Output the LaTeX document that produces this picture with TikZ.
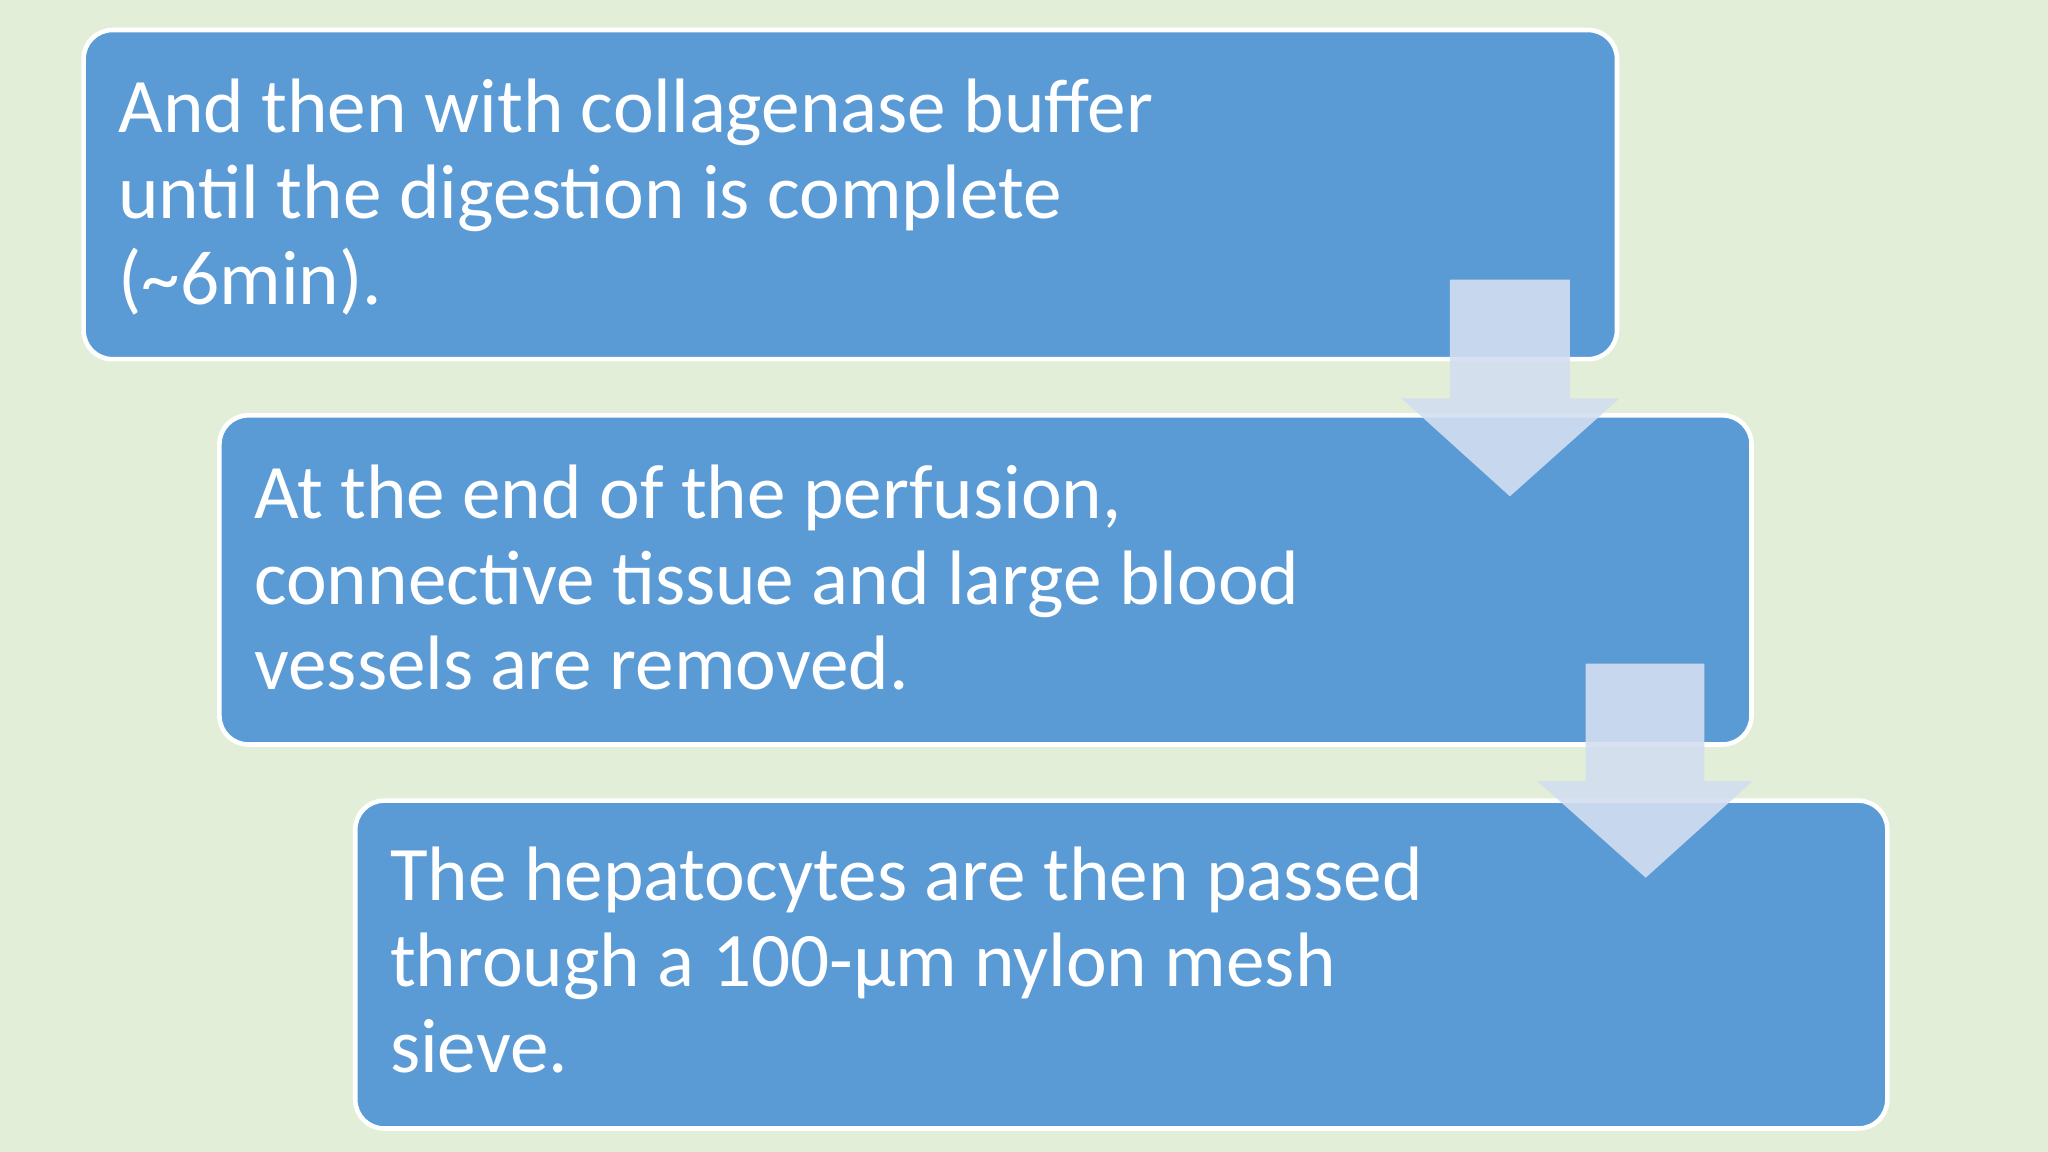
\documentclass[tikz,border=0pt]{standalone}
\usepackage{fontspec}
\setmainfont{Carlito}
\definecolor{bg}{HTML}{E3EED9}
\definecolor{boxc}{HTML}{5B9BD5}
\definecolor{arr}{HTML}{D3DEF0}
\begin{document}
\begin{tikzpicture}[x=0.01cm,y=-0.01cm,
  stepbox/.style={draw=white,line width=1pt,fill=boxc,rounded corners=0.22cm},
  txt/.style={anchor=north west,inner sep=0pt,align=left,text=white,font=\fontsize{16.8}{18.7}\selectfont},
  arrowshape/.style={fill=arr,fill opacity=0.9,draw=none}]
\fill[bg] (0,0) rectangle (1568,882);
\draw[stepbox] (64,23) rectangle (1238,275);
\draw[stepbox] (168,318) rectangle (1341,570);
\draw[stepbox] (272,613) rectangle (1445,864);
\fill[arrowshape] (1110,214) -- (1202,214) -- (1202,305) -- (1240,305) -- (1156,380) -- (1073,305) -- (1110,305) -- cycle;
\fill[arrowshape] (1214,508) -- (1305,508) -- (1305,598) -- (1342,598) -- (1260,672) -- (1177,598) -- (1214,598) -- cycle;
\node[txt] (t1) at (90,60) {And then with collagenase buffer\\until the digestion is complete\\(\textasciitilde6min).};
\node[txt] (t2) at (194,355) {At the end of the perfusion,\\connective tissue and large blood\\vessels are removed.};
\node[txt] (t3) at (298,648) {The hepatocytes are then passed\\through a 100-µm nylon mesh\\sieve.};
\end{tikzpicture}
\end{document}
